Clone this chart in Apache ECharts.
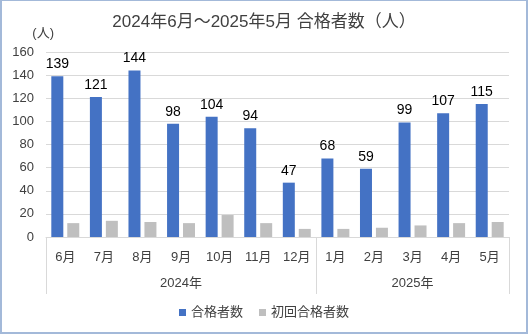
<!DOCTYPE html>
<html><head><meta charset="utf-8">
<script src="https://cdn.jsdelivr.net/npm/echarts@6/dist/echarts.min.js"></script>
<style>
html,body{margin:0;padding:0;background:#fff;}
#c{width:528px;height:334px;box-sizing:border-box;border:2px solid #a3b9d9;border-top-width:1px;}
</style></head>
<body><div id="c"></div>
<script>
const titleText = '2024年6月～2025年5月 合格者数（人）';
const months = ['6月','7月','8月','9月','10月','11月','12月','1月','2月','3月','4月','5月'];
const yearOfMonth = ['2024年','2024年','2024年','2024年','2024年','2024年','2024年','2025年','2025年','2025年','2025年','2025年'];
const passers = [139,121,144,98,104,94,47,68,59,99,107,115];
const firstTimePassers = [12,14,13,12,19,12,7,7,8,10,12,13];
const seriesNames = ['合格者数','初回合格者数'];
const yTicks = [0,20,40,60,80,100,120,140,160];

// year groups built from the per-month year list
const groups = [];
yearOfMonth.forEach((y,i)=>{
  if(!groups.length || groups[groups.length-1].name!==y) groups.push({name:y,start:i,end:i+1});
  else groups[groups.length-1].end = i+1;
});
const boundaries = [0].concat(groups.map(g=>g.end));
const centers = groups.map(g=>(g.start+g.end)/2);

const font = '"Liberation Sans", "Noto Sans CJK JP", sans-serif';
const chart = echarts.init(document.getElementById('c'));
chart.setOption({
  animation:false,
  title:{text:titleText,left:'center',top:8,textStyle:{fontFamily:font,fontSize:17,fontWeight:'normal',color:'#404040'}},
  legend:{bottom:8,left:'center',itemWidth:7,itemHeight:7,itemGap:16,icon:'rect',
    textStyle:{fontFamily:font,fontSize:13,color:'#404040'},data:seriesNames},
  grid:{left:44,right:17,top:51,bottom:95,containLabel:false},
  xAxis:[
    {type:'category',data:months,position:'bottom',
      axisLine:{show:true,lineStyle:{color:'#d9d9d9',width:1}},
      axisTick:{show:false},
      axisLabel:{fontFamily:font,fontSize:13,color:'#404040',margin:14,interval:0}},
    {type:'value',min:0,max:months.length,position:'bottom',
      axisLine:{show:false},splitLine:{show:false},
      axisTick:{show:true,inside:false,length:57,customValues:boundaries,lineStyle:{color:'#d9d9d9',width:1}},
      axisLabel:{customValues:centers,margin:40,fontFamily:font,fontSize:13,color:'#404040',
        formatter:(v)=>{const g=groups.find(g=>(g.start+g.end)/2===v);return g?g.name:'';}}}
  ],
  yAxis:{type:'value',min:yTicks[0],max:yTicks[yTicks.length-1],interval:yTicks[1]-yTicks[0],
    name:'(人)',nameLocation:'end',nameGap:12,
    nameTextStyle:{fontFamily:font,fontSize:13,color:'#404040',align:'right',padding:[0,-8,0,0]},
    axisLine:{show:false},axisTick:{show:false},
    axisLabel:{fontFamily:font,fontSize:13,color:'#404040',margin:12},
    splitLine:{lineStyle:{color:'#d9d9d9',width:1}}},
  series:[
    {name:seriesNames[0],type:'bar',data:passers,barWidth:12,barGap:'33%',xAxisIndex:0,
      itemStyle:{color:'#4472c4'},
      label:{show:true,position:'top',distance:5,fontFamily:font,fontSize:14,color:'#000'}},
    {name:seriesNames[1],type:'bar',data:firstTimePassers,barWidth:12,xAxisIndex:0,
      itemStyle:{color:'#bfbfbf'}}
  ]
});
</script></body></html>
